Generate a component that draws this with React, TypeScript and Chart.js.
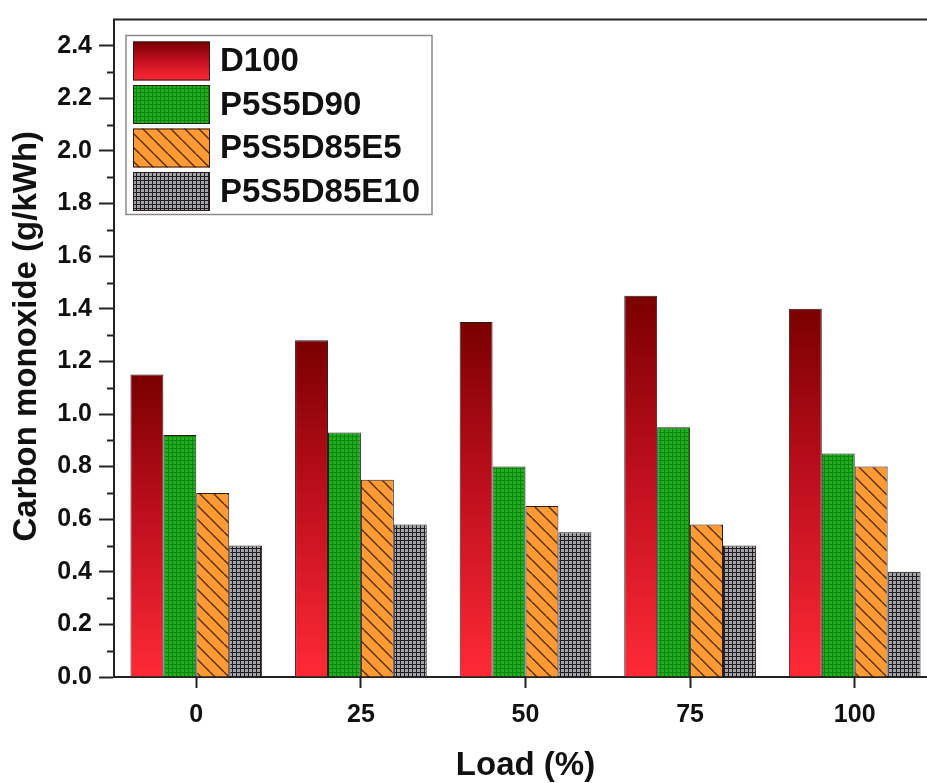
import React, { useEffect, useRef } from 'react';
import { Chart, registerables } from 'chart.js';

Chart.register(...registerables);

const categories = ['0', '25', '50', '75', '100'];
const seriesNames = ['D100', 'P5S5D90', 'P5S5D85E5', 'P5S5D85E10'];
const d100 = [1.15, 1.28, 1.35, 1.45, 1.4];
const p5s5d90 = [0.92, 0.93, 0.8, 0.95, 0.85];
const p5s5d85e5 = [0.7, 0.75, 0.65, 0.58, 0.8];
const p5s5d85e10 = [0.5, 0.58, 0.55, 0.5, 0.4];
const yMin = 0;
const yMax = 2.5;
const yStep = 0.2;
const xTitle = 'Load (%)';
const yTitle = 'Carbon monoxide (g/kWh)';

const FONT = '"Liberation Sans", Arial, sans-serif';
const INK = '#111111';
const AXIS = '#222222';

function makeTile(w: number, h: number, draw: (g: CanvasRenderingContext2D) => void) {
  const c = document.createElement('canvas');
  c.width = w;
  c.height = h;
  const g = c.getContext('2d') as CanvasRenderingContext2D;
  draw(g);
  return c;
}

function redGradient(ctx: CanvasRenderingContext2D, top: number, bottom: number) {
  const g = ctx.createLinearGradient(0, top, 0, bottom);
  g.addColorStop(0, '#7a0000');
  g.addColorStop(0.45, '#bc0e1c');
  g.addColorStop(1, '#ff2a36');
  return g;
}

export default function App() {
  const ref = useRef<HTMLCanvasElement | null>(null);

  useEffect(() => {
    const canvas = ref.current;
    if (!canvas) return;
    const ctx = canvas.getContext('2d') as CanvasRenderingContext2D;

    const greenTile = makeTile(4, 4, (g) => {
      g.fillStyle = '#22ad22';
      g.fillRect(0, 0, 4, 4);
      g.fillStyle = '#0a870a';
      g.fillRect(0, 0, 4, 1);
      g.fillRect(0, 0, 1, 4);
    });
    const orangeTile = makeTile(14, 14, (g) => {
      g.fillStyle = '#ff9a35';
      g.fillRect(0, 0, 14, 14);
      g.strokeStyle = '#5a3010';
      g.lineWidth = 1.5;
      for (const k of [-14, 0, 14]) {
        g.beginPath();
        g.moveTo(k, 0);
        g.lineTo(k + 14, 14);
        g.stroke();
      }
    });
    const greyTile = makeTile(4, 4, (g) => {
      g.fillStyle = '#a2a2a8';
      g.fillRect(0, 0, 4, 4);
      g.fillStyle = '#1e1e1e';
      g.fillRect(0, 0, 4, 1);
      g.fillRect(0, 0, 1, 4);
    });
    const greenPat = ctx.createPattern(greenTile, 'repeat') as CanvasPattern;
    const orangePat = ctx.createPattern(orangeTile, 'repeat') as CanvasPattern;
    const greyPat = ctx.createPattern(greyTile, 'repeat') as CanvasPattern;

    const redFill = (c: any) => {
      const ch = c.chart;
      if (!ch.chartArea || c.type !== 'data') return '#e0202a';
      const ys = ch.scales.y;
      const v = c.raw as number;
      return redGradient(ch.ctx, ys.getPixelForValue(v), ys.getPixelForValue(0));
    };

    const legendFills: any[] = ['red', greenPat, orangePat, greyPat];

    const decor = {
      id: 'decor',
      afterDraw(chart: any) {
        const { ctx: c, chartArea: a, scales } = chart;
        const y = scales.y;
        c.save();
        // frame top / right
        c.strokeStyle = AXIS;
        c.lineWidth = 2;
        c.beginPath();
        c.moveTo(a.left - 1, a.top);
        c.lineTo(a.right, a.top);
        c.lineTo(a.right, a.bottom);
        c.stroke();
        // minor ticks on y
        const ticks = y.ticks;
        for (let i = 0; i < ticks.length - 1; i++) {
          const v = (ticks[i].value + ticks[i + 1].value) / 2;
          const py = Math.round(y.getPixelForValue(v)) + 0.5;
          c.beginPath();
          c.moveTo(a.left - 7, py);
          c.lineTo(a.left, py);
          c.stroke();
        }
        // y-axis title
        c.save();
        c.translate(27, (a.top + a.bottom) / 2 - 12);
        c.rotate(-Math.PI / 2);
        c.fillStyle = INK;
        c.font = `bold 33px ${FONT}`;
        c.textAlign = 'center';
        c.textBaseline = 'middle';
        c.fillText(yTitle, 0, 0);
        c.restore();
        // legend
        const bx = a.left + 12;
        const by = a.top + 16;
        const bw = 306;
        const bh = 179;
        c.fillStyle = '#ffffff';
        c.fillRect(bx, by, bw, bh);
        c.strokeStyle = '#8a8a8a';
        c.lineWidth = 1.5;
        c.strokeRect(bx, by, bw, bh);
        seriesNames.forEach((name, i) => {
          const sx = bx + 7;
          const sy = by + 6 + i * 43.5;
          const sw = 77;
          const sh = 39;
          const f = legendFills[i];
          c.fillStyle = f === 'red' ? redGradient(c, sy, sy + sh) : f;
          c.fillRect(sx, sy, sw, sh);
          c.strokeStyle = '#2a1a1a';
          c.lineWidth = 1;
          c.strokeRect(sx + 0.5, sy + 0.5, sw - 1, sh - 1);
          c.fillStyle = INK;
          c.font = `bold 33px ${FONT}`;
          c.textAlign = 'left';
          c.textBaseline = 'middle';
          c.fillText(name, bx + 94, sy + sh / 2 + 1);
        });
        c.restore();
      },
    };

    const common = {
      borderColor: '#2a1a1a',
      borderWidth: 1,
      categoryPercentage: 0.8,
      barPercentage: 1.0,
    };

    const chart = new Chart(canvas, {
      type: 'bar',
      data: {
        labels: categories,
        datasets: [
          { label: seriesNames[0], data: d100, backgroundColor: redFill, ...common },
          { label: seriesNames[1], data: p5s5d90, backgroundColor: greenPat, ...common },
          { label: seriesNames[2], data: p5s5d85e5, backgroundColor: orangePat, ...common },
          { label: seriesNames[3], data: p5s5d85e10, backgroundColor: greyPat, ...common },
        ],
      },
      options: {
        animation: false,
        responsive: false,
        maintainAspectRatio: false,
        layout: { padding: { top: 15, right: 13, bottom: 0, left: 0 } },
        plugins: {
          legend: { display: false },
          tooltip: { enabled: false },
        },
        scales: {
          x: {
            grid: {
              display: true,
              drawOnChartArea: false,
              drawTicks: true,
              offset: false,
              tickLength: 11,
              tickWidth: 2,
              tickColor: AXIS,
            },
            border: { display: true, color: AXIS, width: 2 },
            ticks: {
              color: INK,
              font: { family: FONT, size: 25, weight: 'bold', lineHeight: 1 },
              padding: 15,
              maxRotation: 0,
            },
            title: {
              display: true,
              text: xTitle,
              color: INK,
              font: { family: FONT, size: 33, weight: 'bold', lineHeight: 1 },
              padding: { top: 0, bottom: 1 },
            },
            afterFit: (s: any) => {
              s.height = 106;
            },
          },
          y: {
            min: yMin,
            max: yMax,
            grid: {
              display: true,
              drawOnChartArea: false,
              drawTicks: true,
              tickLength: 15,
              tickWidth: 2,
              tickColor: AXIS,
            },
            border: { display: true, color: AXIS, width: 2 },
            ticks: {
              stepSize: yStep,
              includeBounds: false,
              color: INK,
              font: { family: FONT, size: 25, weight: 'bold', lineHeight: 1 },
              padding: 7,
              callback: (v: any) => Number(v).toFixed(1),
            },
            title: { display: false },
            afterFit: (s: any) => {
              s.width = 114;
            },
          },
        },
      },
      plugins: [decor],
    } as any);

    return () => chart.destroy();
  }, []);

  return (
    <div
      style={{
        position: 'fixed',
        left: 0,
        top: 0,
        width: 927,
        height: 783,
        overflow: 'hidden',
        background: '#ffffff',
      }}
    >
      <canvas ref={ref} width={950} height={783} style={{ display: 'block' }} />
    </div>
  );
}
